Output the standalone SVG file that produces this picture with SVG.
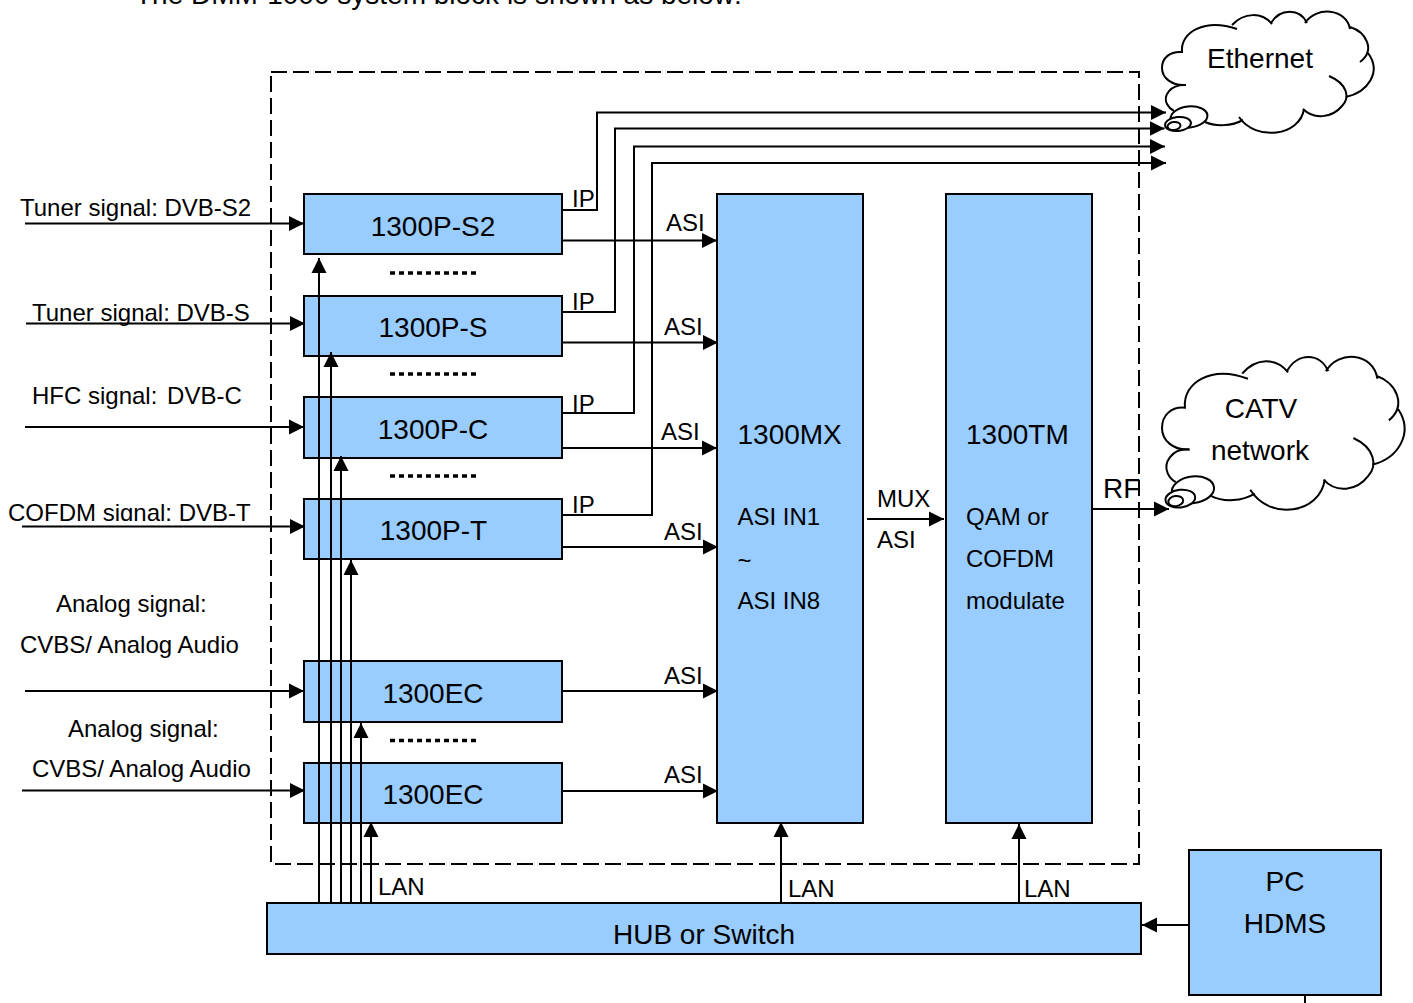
<svg xmlns="http://www.w3.org/2000/svg" xmlns:xlink="http://www.w3.org/1999/xlink" width="1413" height="1003" viewBox="0 0 1413 1003">
<style>
text{font-family:"Liberation Sans",Arial,sans-serif;fill:#000;font-size:24px;white-space:pre}
.n{font-size:28px}
.m{text-anchor:middle}
.box{fill:#99CCFF;stroke:#000;stroke-width:2}
.c{fill:none;stroke:#000;stroke-width:2;marker-end:url(#a)}
.p{fill:none;stroke:#000;stroke-width:2}
.dash{fill:none;stroke:#000;stroke-width:2;stroke-dasharray:16 6}
.dots{fill:none;stroke:#000;stroke-width:3.500;stroke-dasharray:5 4}
.cl{fill:none;stroke:#000;stroke-width:2;vector-effect:non-scaling-stroke}
.bub{fill:#fff;stroke:#000;stroke-width:2;vector-effect:non-scaling-stroke}
</style>
<defs>
<marker id="a" markerUnits="userSpaceOnUse" markerWidth="17" markerHeight="17" refX="15" refY="8" orient="auto">
<path d="M0 0.500L15 8L0 15.500z" fill="#000"/>
</marker>
<clipPath id="cofclip"><rect x="0" y="490" width="300" height="31"/></clipPath>
<g id="cloud">
<path class="cl" d="M1186 85C1172 86 1162 78 1162 68C1162 58 1170 51 1182 52C1180 32 1205 18 1237 29"/>
<path class="cl" d="M1232 25C1244 12 1262 12 1272 24"/>
<path class="cl" d="M1271 23C1280 8 1300 8 1307 23"/>
<path class="cl" d="M1305 23C1316 6 1346 8 1350 29"/>
<path class="cl" d="M1350 27C1366 32 1376 50 1360 62"/>
<path class="cl" d="M1368 53C1382 72 1368 92 1346 97"/>
<path class="cl" d="M1329 76C1348 84 1350 98 1342 106C1332 118 1314 120 1303 109"/>
<path class="cl" d="M1304 109C1300 136 1256 142 1239 117"/>
<path class="cl" d="M1243 120C1232 126 1216 127 1205 122"/>
<path class="cl" d="M1186 85C1170 84 1163 96 1167 104C1169 108 1172 110 1174 111"/>
<ellipse class="bub" cx="1189" cy="117" rx="18.500" ry="10.500" transform="rotate(-6 1189 117)"/>
<ellipse class="bub" cx="1178" cy="124" rx="13" ry="7" transform="rotate(-6 1178 124)"/>
<ellipse class="bub" cx="1174" cy="126" rx="6.500" ry="4" transform="rotate(-6 1174 126)"/>
</g>
</defs>
<text class="n" x="135" y="4">The DMM-1000 system block is shown as below:</text>
<rect id="border" class="dash" x="271" y="72" width="868" height="792"/>

<g id="node-s2"><rect class="box" x="304" y="194" width="258" height="60"/><text class="n m" x="433" y="236">1300P-S2</text></g>
<g id="node-s"><rect class="box" x="304" y="296" width="258" height="60"/><text class="n m" x="433" y="337">1300P-S</text></g>
<g id="node-c"><rect class="box" x="304" y="397" width="258" height="61"/><text class="n m" x="433" y="439">1300P-C</text></g>
<g id="node-t"><rect class="box" x="304" y="499" width="258" height="60"/><text class="n m" x="433.500" y="540">1300P-T</text></g>
<g id="node-ec1"><rect class="box" x="304" y="661" width="258" height="61"/><text class="n m" x="433" y="703">1300EC</text></g>
<g id="node-ec2"><rect class="box" x="304" y="763" width="258" height="60"/><text class="n m" x="433" y="804">1300EC</text></g>
<g id="node-mx"><rect class="box" x="717" y="194" width="146" height="629"/><text class="n" x="737.500" y="444">1300MX</text><text x="737.500" y="525">ASI IN1</text><text x="737.500" y="569">~</text><text x="737.500" y="609">ASI IN8</text></g>
<g id="node-tm"><rect class="box" x="946" y="194" width="146" height="629"/><text class="n" x="966" y="444">1300TM</text><text x="966" y="525">QAM or</text><text x="966" y="567">COFDM</text><text x="966" y="609">modulate</text></g>
<g id="node-hub"><rect class="box" x="267" y="903" width="874" height="51"/><text class="n m" x="704" y="944">HUB or Switch</text></g>
<g id="node-pc"><rect class="box" x="1189" y="850" width="192" height="145"/><text class="n m" x="1285" y="891">PC</text><text class="n m" x="1285" y="933">HDMS</text></g>
<g id="node-ethernet"><use xlink:href="#cloud" href="#cloud"/><text class="n m" x="1260" y="68">Ethernet</text></g>
<g id="node-catv"><use xlink:href="#cloud" href="#cloud" transform="translate(1162 356) scale(1.146 1.262) translate(-1162 -11)"/><text class="n m" x="1261" y="418">CATV</text><text class="n m" x="1260" y="460">network</text></g>

<g id="connectors">
<path class="c" d="M25 223.500H304"/>
<path class="c" d="M26 323.500H305"/>
<path class="c" d="M25 427H304"/>
<path class="c" d="M22 526.500H305"/>
<path class="c" d="M25 691H304"/>
<path class="c" d="M22 790.500H305"/>
<path class="c" d="M563 210H597V112.500H1166"/>
<path class="c" d="M563 312H615V128.500H1164.500"/>
<path class="c" d="M563 413H634V146.500H1165"/>
<path class="c" d="M563 515H652V163H1166"/>
<path class="c" d="M563 240.500H717"/>
<path class="c" d="M563 342.500H718"/>
<path class="c" d="M563 448H717"/>
<path class="c" d="M563 547H718"/>
<path class="c" d="M563 691H718"/>
<path class="c" d="M563 791H718"/>
<path class="c" d="M867 519H944"/>
<path class="c" d="M1093 509H1169"/>
<path class="c" d="M319 902V258"/>
<path class="c" d="M331 902V352"/>
<path class="c" d="M341 902V456"/>
<path class="c" d="M351 902V560"/>
<path class="c" d="M361 902V723"/>
<path class="c" d="M371 902V822"/>
<path class="c" d="M781 902V822"/>
<path class="c" d="M1019 902V824"/>
<path class="c" d="M1189 925H1142"/>
<path class="p" d="M1305 996V1003"/>
</g>
<g id="dots">
<path class="dots" d="M390 273H480"/>
<path class="dots" d="M390 374H480"/>
<path class="dots" d="M390 476H480"/>
<path class="dots" d="M390 740.500H480"/>
</g>
<g id="labels">
<text x="20" y="216">Tuner signal: DVB-S2</text>
<text x="32" y="321">Tuner signal: DVB-S</text>
<text x="32" y="404">HFC signal: <tspan dx="3">DVB-C</tspan></text>
<text x="8" y="521" clip-path="url(#cofclip)">COFDM signal: DVB-T</text>
<text x="56" y="612">Analog signal:</text>
<text x="20" y="653">CVBS/ Analog Audio</text>
<text x="68" y="737">Analog signal:</text>
<text x="32" y="777">CVBS/ Analog Audio</text>
<text x="572" y="207">IP</text>
<text x="572" y="310">IP</text>
<text x="572" y="412">IP</text>
<text x="572" y="513">IP</text>
<text x="666" y="231">ASI</text>
<text x="664" y="335">ASI</text>
<text x="661" y="440">ASI</text>
<text x="664" y="540">ASI</text>
<text x="664" y="684">ASI</text>
<text x="664" y="783">ASI</text>
<text x="877" y="507">MUX</text>
<text x="877" y="548">ASI</text>
<text class="n" x="1103" y="498">RF</text>
<text x="378" y="895">LAN</text>
<text x="788" y="897">LAN</text>
<text x="1024" y="897">LAN</text>
</g>
</svg>
